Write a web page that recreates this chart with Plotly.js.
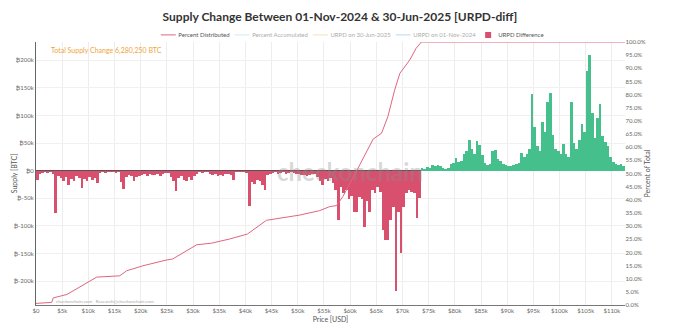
<!DOCTYPE html>
<html><head><meta charset="utf-8">
<script src="https://cdn.plot.ly/plotly-3.0.1.min.js"></script>
<style>
html,body{margin:0;padding:0;background:#fff;overflow:hidden;width:680px;height:330px}
#wrap{width:680px;height:330px;overflow:hidden;position:relative}
#chart{width:1360px;height:660px;transform:scale(0.5);transform-origin:0 0;position:absolute;left:0;top:0}
</style></head><body><div id="wrap"><div id="chart"></div></div>
<script>
// ---- data ----
const binWidthUSD = 500;           // URPD-diff histogram bin width
// URPD difference (thousand BTC) per $500 bin, $0 -> $73.5k (supply that left)
const urpdDiffRedK = [
 -16,-5,-4,-3,-4,-3,-6,-77,-9,-14,
 -18,-12,-25,-15,-18,-10,-14,-31,-15,-18,
 -12,-16,-14,-22,-4,-3,-4,-2,-3,-3,
 -4,-3,-20,-33,-12,-8,-10,-19,-12,-9,
 -8,-6,-9,-5,-7,-8,-6,-9,-5,-4,
 -4,-12,-18,-37,-14,-10,-16,-19,-12,-16,
 -10,-5,-3,-4,-2,-3,-5,-8,-6,-9,
 -7,-10,-6,-5,-8,-16,-3,-2,-3,-2,
 -4,-64,-20,-24,-16,-18,-25,-34,-8,-5,
 -4,-3,-5,-4,-3,-6,-4,-3,-4,-6,
 -5,-7,-8,-9,-7,-5,-6,-12,-18,-25,
 -15,-19,-14,-22,-34,-89,-30,-40,-35,-52,
 -45,-74,-74,-48,-52,-101,-55,-74,-35,-40,
 -30,-38,-107,-125,-125,-90,-65,-218,-75,-149,
 -65,-40,-35,-38,-40,-86,-50
];
// URPD difference (thousand BTC) per $500 bin, $73.5k -> $112.5k (supply that arrived)
const urpdDiffGreenK = [
 5,4,6,5,11,8,10,9,5,4,
 5,12,14,23,15,17,30,35,56,40,
 30,53,47,28,14,10,12,35,38,22,
 18,12,10,8,9,10,12,14,32,25,
 30,40,139,80,45,35,89,70,125,140,
 65,40,35,30,48,30,25,124,50,40,
 56,84,70,180,210,105,60,95,120,62,
 52,45,25,15,12,10,12,9
];
// Percent Distributed curve (price in $k, percent of total)
const pctPriceK = [0,3.0,3.3,5.9,11.6,16.0,17.3,20.4,24.9,26.1,30.7,33.5,37.0,40.4,44.0,47.1,50.4,54.2,56.1,57.4,58.6,61.5,62.5,64.4,66.0,67.2,68.5,69.5,71.4,72.6,73.6,112.5];
const pctDistributed = [0.6,1.0,2.7,4.0,10.6,11.1,13.0,14.9,17.1,17.5,22.9,23.5,25.1,27.0,32.2,33.1,34.2,35.9,37.4,37.8,41.2,52.0,55.8,63.1,65.3,71.6,81.7,88.1,93.2,97.6,100,100];
// ticks
const priceTicks = [0,5000,10000,15000,20000,25000,30000,35000,40000,45000,50000,55000,60000,65000,70000,75000,80000,85000,90000,95000,100000,105000,110000];
const priceTickLabels = ['$0','$5k','$10k','$15k','$20k','$25k','$30k','$35k','$40k','$45k','$50k','$55k','$60k','$65k','$70k','$75k','$80k','$85k','$90k','$95k','$100k','$105k','$110k'];
const supplyTicks = [200000,150000,100000,50000,0,-50000,-100000,-150000,-200000];
const supplyTickLabels = ['₿200k','₿150k','₿100k','₿50k','₿0','₿-50k','₿-100k','₿-150k','₿-200k'];
const seriesNames = ['Percent Distributed','Percent Accumulated','URPD on 30-Jun-2025','URPD on 01-Nov-2024','URPD Difference'];

// ---- build ----
const RED = '#d9506f', GREEN = '#45c08d';
const diffK = urpdDiffRedK.concat(urpdDiffGreenK);
const binCenters = diffK.map((_, i) => i * binWidthUSD + binWidthUSD / 2);
const diffBTC = diffK.map(v => v * 1000);
const barColors = diffK.map(v => v < 0 ? RED : GREEN);
const pctPriceUSD = pctPriceK.map(v => v * 1000);

const data = [
  {type:'scatter', mode:'lines', name:seriesNames[0], x:pctPriceUSD, y:pctDistributed, yaxis:'y2',
   line:{color:'#e0667f', width:2}},
  {type:'scatter', mode:'lines', name:seriesNames[1], x:[0,1], y:[0,0], yaxis:'y2', visible:'legendonly',
   line:{color:'#a9d6e5', width:2}},
  {type:'scatter', mode:'lines', name:seriesNames[2], x:[0,1], y:[0,0], visible:'legendonly',
   line:{color:'#f5c27a', width:2}},
  {type:'scatter', mode:'lines', name:seriesNames[3], x:[0,1], y:[0,0], visible:'legendonly',
   line:{color:'#7fb0e0', width:2}},
  {type:'bar', name:seriesNames[4], x:binCenters, y:diffBTC, width:binWidthUSD,
   marker:{color:barColors, line:{width:0}}}
];

const layout = {
  width:1360, height:660,
  paper_bgcolor:'#ffffff', plot_bgcolor:'#ffffff',
  font:{family:'Lato, "Open Sans", sans-serif', size:12, color:'#555'},
  margin:{l:72, r:110, t:84, b:50},
  title:{text:'Supply Change Between 01-Nov-2024 & 30-Jun-2025 [URPD-diff]',
         font:{size:24, color:'#333', weight:'bold'}, x:0.5, xref:'container', xanchor:'center',
         y:1-34/660, yref:'container', yanchor:'middle'},
  showlegend:true,
  legend:{orientation:'h', x:0.537, xanchor:'center', y:1.027, yanchor:'middle',
          font:{size:12, color:'#555'}, bgcolor:'rgba(0,0,0,0)', traceorder:'normal'},
  bargap:0,
  xaxis:{range:[0,112500], tickvals:priceTicks, ticktext:priceTickLabels,
         showgrid:true, gridcolor:'#ededed', gridwidth:2, showline:true, linecolor:'#777', linewidth:2,
         zeroline:false, ticks:'', tickfont:{size:12, color:'#666'},
         title:{text:'Price [USD]', font:{size:14, color:'#555'}, standoff:6}},
  yaxis:{range:[-243000,233000], tickvals:supplyTicks, ticktext:supplyTickLabels,
         showgrid:true, gridcolor:'#f0f0f0', gridwidth:2, showline:true, linecolor:'#666', linewidth:2,
         zeroline:true, zerolinecolor:'#555', zerolinewidth:3, ticks:'', tickfont:{size:12, color:'#666'},
         title:{text:'Supply [BTC]', font:{size:14, color:'#555'}}},
  yaxis2:{overlaying:'y', side:'right', range:[0,100], tick0:0, dtick:5, ticksuffix:'%', tickformat:'.1f',
          showgrid:false, zeroline:false, showline:false, ticks:'', tickfont:{size:12, color:'#666'},
          title:{text:'Percent of Total', font:{size:14, color:'#555'}}},
  annotations:[
    {text:'Total Supply Change 6,280,250 BTC', xref:'paper', yref:'paper', x:0.024, y:0.970,
     xanchor:'left', yanchor:'middle', showarrow:false, font:{size:14, color:'#f0a43a'}},
    {text:'<b>checkonchain</b>', xref:'paper', yref:'paper', x:0.533, y:0.506,
     xanchor:'center', yanchor:'middle', showarrow:false, font:{size:48, color:'rgba(140,140,140,0.35)'}},
    {text:'checkonchain.com   Research@checkonchain.com', xref:'paper', yref:'paper', x:0.032, y:0.015,
     xanchor:'left', yanchor:'middle', showarrow:false, font:{size:9, color:'#aaa'}}
  ]
};

Plotly.newPlot('chart', data, layout, {staticPlot:true, displayModeBar:false});
</script></body></html>
